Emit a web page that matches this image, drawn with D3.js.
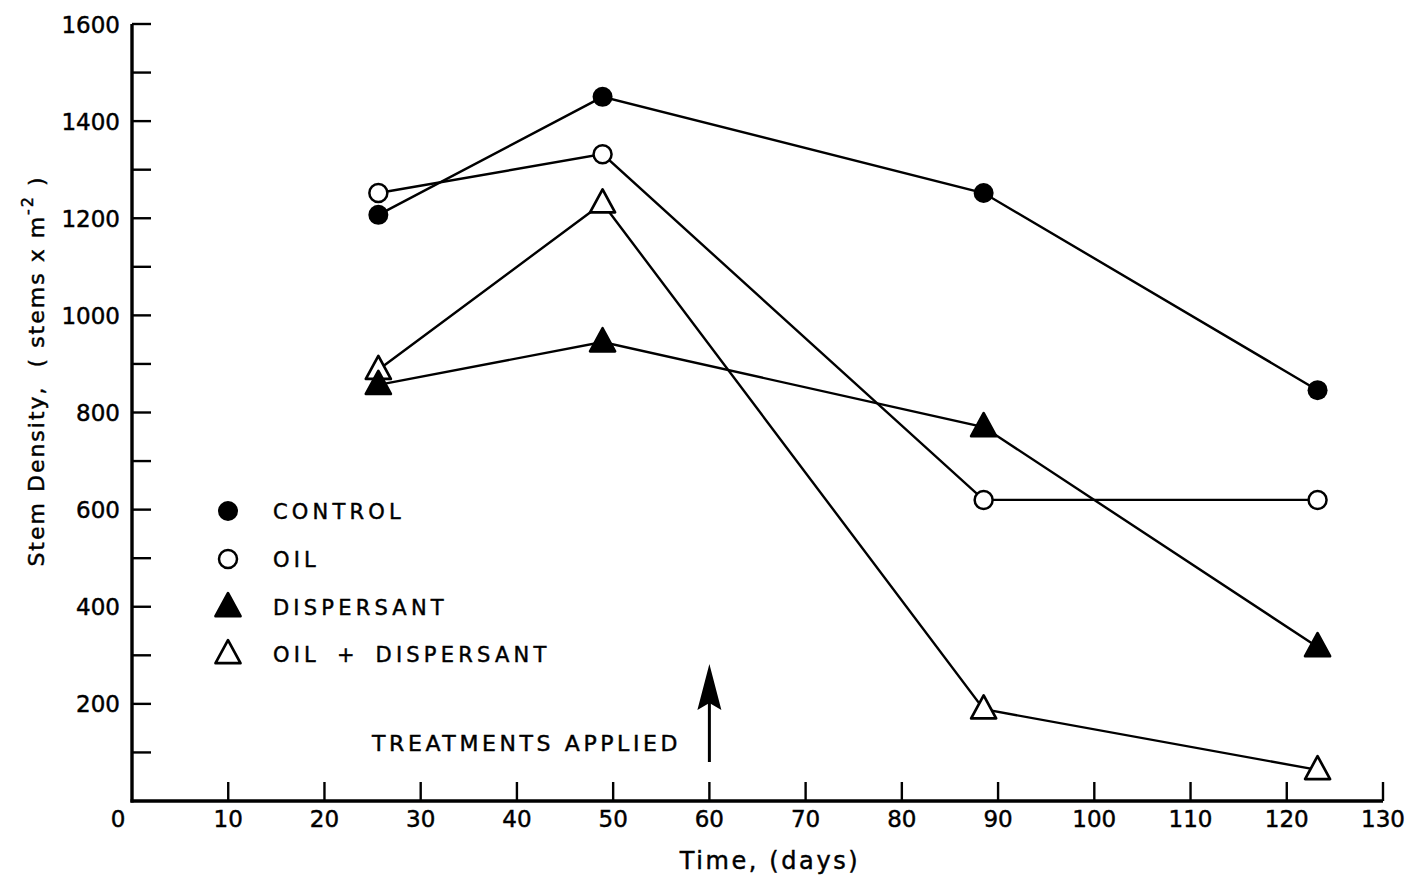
<!DOCTYPE html>
<html>
<head>
<meta charset="utf-8">
<script src="https://cdn.jsdelivr.net/npm/d3@7"></script>
<style>
  html, body { margin: 0; padding: 0; background: #fff; }
  svg { display: block; }
  text { font-family: "DejaVu Sans", "Liberation Sans", sans-serif; fill: #000; stroke: #000; stroke-width: 0.45; white-space: pre; }
</style>
</head>
<body>
<svg id="chart" width="1410" height="878"></svg>
<script>
// ---- data ----
const days = [25.6, 48.9, 88.5, 123.2];
const control = [1207, 1450, 1252, 846];
const oil = [1252, 1332, 620, 620];
const dispersant = [857, 945, 770, 317];
const oilDispersant = [888, 1231, 189, 64];

const seriesNames = ["CONTROL", "OIL", "DISPERSANT", "OIL + DISPERSANT"];
const seriesMarkers = ["filledCircle", "openCircle", "filledTriangle", "openTriangle"];
const seriesValues = [control, oil, dispersant, oilDispersant];

const xTickValues = [0, 10, 20, 30, 40, 50, 60, 70, 80, 90, 100, 110, 120, 130];
const yTickValues = [100, 200, 300, 400, 500, 600, 700, 800, 900, 1000, 1100, 1200, 1300, 1400, 1500, 1600];
const yLabelValues = [200, 400, 600, 800, 1000, 1200, 1400, 1600];
const treatmentDay = 60;

const xTitle = "Time, (days)";
const annotation = "TREATMENTS APPLIED";

// ---- layout ----
const svg = d3.select("#chart");
const x = d3.scaleLinear().domain([0, 130]).range([132, 1383]);
const y = d3.scaleLinear().domain([0, 1600]).range([801, 24]);

// axes lines
svg.append("line").attr("x1", x(0)).attr("x2", x(0)).attr("y1", y(1600)).attr("y2", y(0) + 1.5)
  .attr("stroke", "#000").attr("stroke-width", 3.4);
svg.append("line").attr("x1", x(0) - 1.5).attr("x2", x(130)).attr("y1", y(0)).attr("y2", y(0))
  .attr("stroke", "#000").attr("stroke-width", 3.4);

// y ticks (inward)
svg.append("g").selectAll("line").data(yTickValues).join("line")
  .attr("x1", x(0)).attr("x2", x(0) + 19)
  .attr("y1", d => y(d)).attr("y2", d => y(d))
  .attr("stroke", "#000").attr("stroke-width", 2.4);
svg.append("g").selectAll("text").data(yLabelValues).join("text")
  .attr("x", x(0) - 12).attr("y", d => y(d) + 8.5)
  .attr("text-anchor", "end").attr("font-size", 23)
  .text(d => d);

// x ticks (inward)
svg.append("g").selectAll("line").data(xTickValues.filter(d => d > 0)).join("line")
  .attr("x1", d => x(d)).attr("x2", d => x(d))
  .attr("y1", y(0)).attr("y2", y(0) - 19)
  .attr("stroke", "#000").attr("stroke-width", 2.4);
svg.append("g").selectAll("text").data(xTickValues).join("text")
  .attr("x", d => d === 0 ? x(d) - 14 : x(d)).attr("y", y(0) + 26)
  .attr("text-anchor", "middle").attr("font-size", 23)
  .text(d => d);

// axis titles
svg.append("text").attr("x", 770).attr("y", 869).attr("text-anchor", "middle")
  .attr("font-size", 24).attr("letter-spacing", 2.6).text(xTitle);

const yt = svg.append("text").attr("transform", "translate(44,371) rotate(-90)")
  .attr("text-anchor", "middle").attr("font-size", 22).attr("letter-spacing", 2);
yt.append("tspan").text("Stem Density,  ( stems x m");
yt.append("tspan").attr("font-size", 16).attr("dy", -11).text("-2");
yt.append("tspan").attr("dy", 11).text(" )");

// markers
function drawMarker(g, type, cx, cy, s) {
  if (type === "filledCircle") {
    g.append("circle").attr("cx", cx).attr("cy", cy).attr("r", 10 * s).attr("fill", "#000");
  } else if (type === "openCircle") {
    g.append("circle").attr("cx", cx).attr("cy", cy).attr("r", 9 * s)
      .attr("fill", "#fff").attr("stroke", "#000").attr("stroke-width", 2.5);
  } else {
    const w = 12.5 * s, h = 23 * s;
    const pts = [[cx, cy - h * 0.6], [cx + w, cy + h * 0.4], [cx - w, cy + h * 0.4]];
    g.append("path").attr("d", d3.line()(pts) + "Z")
      .attr("fill", type === "filledTriangle" ? "#000" : "#fff")
      .attr("stroke", "#000").attr("stroke-width", 2.7).attr("stroke-linejoin", "round");
  }
}

// series lines
const line = d3.line().x(d => x(d[0])).y(d => y(d[1]));
seriesValues.forEach(vals => {
  svg.append("path").attr("d", line(days.map((d, i) => [d, vals[i]])))
    .attr("fill", "none").attr("stroke", "#000").attr("stroke-width", 2.4);
});
// markers on top (dispersant drawn after oil+dispersant so it sits in front at day 25)
[3, 2, 1, 0].forEach(si => {
  const g = svg.append("g");
  days.forEach((d, i) => drawMarker(g, seriesMarkers[si], x(d), y(seriesValues[si][i]), 1));
});

// legend
const legendY = [511, 559, 607, 654];
seriesNames.forEach((name, i) => {
  const g = svg.append("g");
  drawMarker(g, seriesMarkers[i], 228, legendY[i], 1);
  g.append("text").attr("x", 273).attr("y", legendY[i] + 8).attr("font-size", 21)
    .attr("letter-spacing", 4.2).attr("word-spacing", 6).text(name);
});

// treatment arrow
const ax = x(treatmentDay);
svg.append("line").attr("x1", ax).attr("x2", ax).attr("y1", 762).attr("y2", 700)
  .attr("stroke", "#000").attr("stroke-width", 3);
svg.append("path").attr("d", d3.line()([[ax, 664], [ax + 12, 710], [ax, 703], [ax - 12, 710]]) + "Z")
  .attr("fill", "#000");
svg.append("text").attr("x", 372).attr("y", 751).attr("font-size", 22)
  .attr("letter-spacing", 3.6).text(annotation);
</script>
</body>
</html>
